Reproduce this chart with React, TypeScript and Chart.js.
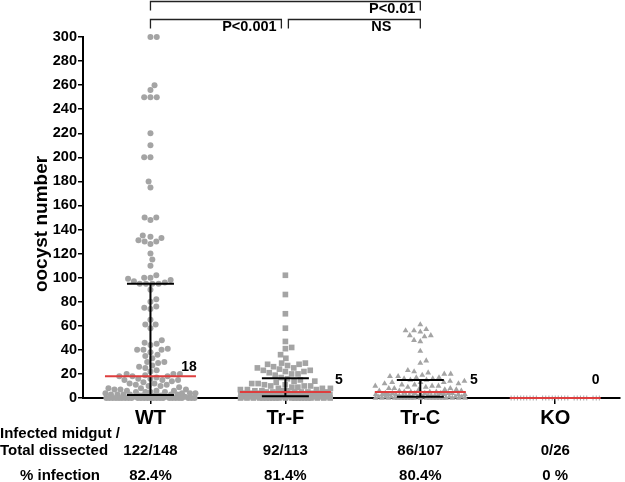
import React, { useEffect, useRef } from 'react';
import { Chart, registerables } from 'chart.js';

Chart.register(...registerables);

// ---------- data ----------
const groups = ['WT', 'Tr-F', 'Tr-C', 'KO'];

const wtValues = [
  300, 300, 260, 256, 250, 250, 250, 220, 210, 200, 200, 180, 175, 150, 150, 148, 135, 134, 133, 131, 130, 130,
  128, 120, 115, 110, 102, 100, 100, 99, 98, 97, 96, 95, 95, 95, 95,
  90, 82, 80, 76, 75, 74, 65, 61, 61, 58, 48, 46, 45, 44, 41, 40, 40, 40, 38, 36, 35, 33, 30, 30, 29, 27, 26,
  25, 23, 22, 20, 20, 20, 19, 18, 18, 18,
  17, 16, 16, 15, 15, 15, 14, 13, 12, 12, 11, 11, 10, 10, 9, 8, 8, 7, 7, 7, 6, 6, 6, 5, 5, 5, 5, 4, 4, 4, 4,
  3, 3, 3, 3, 3, 3,
  2, 2, 2, 2, 2, 1, 1, 1, 1, 1, 1,
  0, 0, 0, 0, 0, 0, 0, 0, 0, 0, 0, 0, 0, 0, 0, 0, 0, 0, 0, 0, 0, 0, 0, 0, 0, 0,
];

const trfValues = [
  102, 86, 70, 58, 47, 42, 41, 36, 33, 29, 29, 28, 28, 27, 26, 25, 25, 24, 23, 23, 22, 22, 21, 20, 20, 19, 17, 16,
  15, 14, 14, 13, 12, 12, 11, 11, 10, 10, 10, 9, 9, 8, 8, 8, 7, 7, 7, 6, 6, 6, 6, 5, 5, 5, 5, 5, 5,
  4, 4, 4, 4, 4, 4, 4, 3, 3, 3, 3, 3, 3, 3, 3, 2, 2, 2, 2, 2, 2, 2, 2, 2, 2, 1, 1, 1, 1, 1, 1, 1, 1, 1, 1,
  0, 0, 0, 0, 0, 0, 0, 0, 0, 0, 0, 0, 0, 0, 0, 0, 0, 0, 0, 0, 0,
];

const trcValues = [
  61, 57, 56, 56, 55, 52, 52, 51, 48, 47, 39, 31, 29, 23, 22, 21, 20, 20, 19, 18, 18, 17, 17, 16, 16, 15, 15,
  14, 14, 13, 13, 13, 12, 12, 11, 11, 10, 10, 10, 9, 9, 8, 8, 8, 7, 7, 7, 6, 6, 6, 5, 5, 5, 5,
  4, 4, 4, 4, 4, 4, 4, 3, 3, 3, 3, 3, 3, 3, 3, 2, 2, 2, 2, 2, 2, 2, 2, 1, 1, 1, 1, 1, 1, 1, 1, 1,
  0, 0, 0, 0, 0, 0, 0, 0, 0, 0, 0, 0, 0, 0, 0, 0, 0, 0, 0, 0, 0,
];

const koValues = [
  0, 0, 0, 0, 0, 0, 0, 0, 0, 0, 0, 0, 0, 0, 0, 0, 0, 0, 0, 0, 0, 0, 0, 0, 0, 0,
];

const medians = [18, 5, 5, 0];
const q1Values = [2.5, 1.5, 1, 0];
const q3Values = [95, 16.5, 15, 0];
const medianLabels = ['18', '5', '5', '0'];

const infectedCounts = ['122/148', '92/113', '86/107', '0/26'];
const infectionPct = ['82.4%', '81.4%', '80.4%', '0 %'];

const compFrom = [0, 0, 1];
const compTo = [2, 1, 2];
const compLabels = ['P<0.01', 'P<0.001', 'NS'];
const compRow = [0, 1, 1];

const yTicksMax = 300;
const yTickStep = 20;

// ---------- style ----------
const FONT = '"Liberation Sans", Arial, Helvetica, sans-serif';
const DOT = '#a4a4a4';
const RED = 'rgb(222,62,62)';
const pointStyles = ['circle', 'rect', 'triangle', 'line'];
const pointRadii = [3, 4, 3.4, 2.5];
const swarmD = [6.3, 6.4, 6.4, 6.3];
const CAP = 45;
const labelDx = [-7, 8, 8, -5];
const labelDy = [-9, -12, -12, -18];
const compLabelFrac = [0.896, 0.733, 0.711];
const rowY = [1.5, 19.5];

function swarm(pys: number[], d: number, cap: number): number[] {
  const idx = pys.map((_, i) => i).sort((a, b) => pys[b] - pys[a]);
  const placed: { y: number; o: number }[] = [];
  const out: number[] = new Array(pys.length).fill(0);
  let flip = 1;
  for (const i of idx) {
    const y = pys[i];
    const near = placed.filter((p) => Math.abs(p.y - y) < d);
    const intervals = near.map((p) => {
      const r = Math.sqrt(d * d - (p.y - y) * (p.y - y));
      return [p.o - r, p.o + r];
    });
    const cands = [0];
    intervals.forEach(([a, b]) => cands.push(a, b));
    cands.sort((a, b) => {
      const da = Math.abs(a) - Math.abs(b);
      if (Math.abs(da) > 1e-6) return da;
      return flip * (a - b);
    });
    let best: number | null = null;
    for (const c of cands) {
      if (Math.abs(c) > cap + 1e-6) continue;
      if (intervals.every(([a, b]) => c <= a + 1e-6 || c >= b - 1e-6)) {
        best = c;
        break;
      }
    }
    if (best === null) {
      let bs = -1;
      best = 0;
      for (let c = -cap; c <= cap + 1e-9; c += 0.5) {
        let m = Infinity;
        near.forEach((p) => {
          const dd = Math.hypot(p.o - c, p.y - y);
          if (dd < m) m = dd;
        });
        if (m > bs + 1e-6 || (Math.abs(m - bs) <= 1e-6 && Math.abs(c) < Math.abs(best))) {
          bs = m;
          best = c;
        }
      }
    }
    flip = -flip;
    placed.push({ y, o: best });
    out[i] = best;
  }
  return out;
}

const overlayPlugin = {
  id: 'overlay',
  afterDatasetsDraw(chart: any) {
    const ctx = chart.ctx;
    const xs = chart.scales.x;
    const ys = chart.scales.y;
    ctx.save();
    groups.forEach((_, g) => {
      const cx = xs.getPixelForValue(g);
      // IQR
      if (q3Values[g] > q1Values[g]) {
        const yt = ys.getPixelForValue(q3Values[g]);
        const yb = ys.getPixelForValue(q1Values[g]);
        ctx.strokeStyle = '#000';
        ctx.lineWidth = 2;
        ctx.beginPath();
        ctx.moveTo(cx, yt);
        ctx.lineTo(cx, yb);
        ctx.moveTo(cx - 23.5, yt);
        ctx.lineTo(cx + 23.5, yt);
        ctx.moveTo(cx - 23.5, yb);
        ctx.lineTo(cx + 23.5, yb);
        ctx.stroke();
      }
      // median
      const ym = ys.getPixelForValue(medians[g]);
      ctx.strokeStyle = RED;
      ctx.lineWidth = 2;
      ctx.beginPath();
      ctx.moveTo(cx - 45.5, ym);
      ctx.lineTo(cx + 45.5, ym);
      ctx.stroke();
      ctx.fillStyle = '#000';
      ctx.font = `bold 14px ${FONT}`;
      ctx.textAlign = 'center';
      ctx.textBaseline = 'middle';
      const tw = ctx.measureText(medianLabels[g]).width;
      ctx.fillText(medianLabels[g], cx + 45.5 + labelDx[g], ym + labelDy[g]);
      void tw;
    });
    ctx.restore();
  },
  afterDraw(chart: any) {
    const ctx = chart.ctx;
    const xs = chart.scales.x;
    ctx.save();
    // comparison brackets
    ctx.strokeStyle = '#222';
    ctx.lineWidth = 1.3;
    compFrom.forEach((f, k) => {
      const t = compTo[k];
      const r = compRow[k];
      const sharedLeft = compFrom.some((_, j) => j !== k && compRow[j] === r && compTo[j] === f);
      const sharedRight = compFrom.some((_, j) => j !== k && compRow[j] === r && compFrom[j] === t);
      const x1 = xs.getPixelForValue(f) + (sharedLeft ? 3 : 0);
      const x2 = xs.getPixelForValue(t) - (sharedRight ? 4 : 0);
      const y = rowY[r];
      ctx.beginPath();
      ctx.moveTo(x1, y + 9);
      ctx.lineTo(x1, y);
      ctx.lineTo(x2, y);
      ctx.lineTo(x2, y + 9);
      ctx.stroke();
      const lx = xs.getPixelForValue(f) + (xs.getPixelForValue(t) - xs.getPixelForValue(f)) * compLabelFrac[k];
      ctx.fillStyle = '#000';
      ctx.font = `bold 14.5px ${FONT}`;
      ctx.textAlign = 'center';
      ctx.textBaseline = 'middle';
      ctx.fillText(compLabels[k], lx, y + 7.5);
    });
    // y title
    ctx.save();
    ctx.translate(47, 224);
    ctx.rotate(-Math.PI / 2);
    ctx.font = `bold 19px ${FONT}`;
    ctx.textAlign = 'center';
    ctx.textBaseline = 'alphabetic';
    ctx.fillStyle = '#000';
    ctx.fillText('oocyst number', 0, 0);
    ctx.restore();
    // table below
    ctx.fillStyle = '#000';
    ctx.font = `bold 15px ${FONT}`;
    ctx.textBaseline = 'middle';
    ctx.textAlign = 'left';
    ctx.fillText('Infected midgut /', 0, 434);
    ctx.fillText('Total dissected', 0, 451);
    ctx.textAlign = 'center';
    ctx.fillText('% infection', 60, 476);
    groups.forEach((_, g) => {
      const cx = xs.getPixelForValue(g);
      ctx.fillText(infectedCounts[g], cx, 451);
      ctx.fillText(infectionPct[g], cx, 476);
    });
    ctx.restore();
  },
};

const allValues = [wtValues, trfValues, trcValues, koValues];

export default function App() {
  const ref = useRef<HTMLCanvasElement>(null);
  useEffect(() => {
    if (!ref.current) return;
    const chart = new Chart(ref.current, {
      type: 'scatter',
      data: {
        datasets: allValues.map((vals, g) => ({
          label: groups[g],
          data: vals.map((v) => ({ x: g, y: v })),
          pointStyle: pointStyles[g] as any,
          pointRadius: pointRadii[g],
          pointRotation: g === 3 ? 90 : 0,
          pointBackgroundColor: DOT,
          pointBorderColor: DOT,
          pointBorderWidth: g === 3 ? 1 : 0,
          clip: false as any,
        })),
      },
      options: {
        responsive: false,
        animation: false,
        events: [],
        layout: { padding: { top: 37, right: 5, left: 0, bottom: 0 } },
        plugins: { legend: { display: false }, tooltip: { enabled: false } },
        scales: {
          x: {
            type: 'linear',
            min: -0.5,
            max: 3.48,
            afterBuildTicks: (s: any) => {
              s.ticks = groups.map((_, i) => ({ value: i }));
            },
            afterFit: (s: any) => {
              s.height = 84;
            },
            grid: { drawOnChartArea: false, drawTicks: true, tickLength: 6, color: '#000', lineWidth: 1.5 },
            border: { display: true, color: '#000', width: 2 },
            ticks: {
              callback: (v: any) => groups[Math.round(Number(v))],
              font: { family: FONT, size: 20, weight: 'bold' },
              color: '#000',
              padding: 2,
              maxRotation: 0,
              autoSkip: false,
            },
          },
          y: {
            min: 0,
            max: yTicksMax,
            afterFit: (s: any) => {
              s.width = 83;
            },
            grid: { drawOnChartArea: false, drawTicks: true, tickLength: 5, color: '#000', lineWidth: 1.5 },
            border: { display: true, color: '#000', width: 2 },
            ticks: {
              stepSize: yTickStep,
              font: { family: FONT, size: 14.5, weight: 'bold' },
              color: '#000',
              padding: 1,
            },
          },
        },
      },
      plugins: [overlayPlugin],
    });
    const xs: any = chart.scales.x;
    const ys: any = chart.scales.y;
    const pxPerUnit = xs.getPixelForValue(1) - xs.getPixelForValue(0);
    allValues.forEach((vals, g) => {
      const pys = vals.map((v) => ys.getPixelForValue(v));
      const offs = swarm(pys, swarmD[g], CAP);
      (chart.data.datasets[g] as any).data = vals.map((v, i) => ({ x: g + offs[i] / pxPerUnit, y: v }));
    });
    chart.update();
    return () => chart.destroy();
  }, []);
  return (
    <div style={{ position: 'absolute', left: 0, top: 0, width: 625, height: 482 }}>
      <canvas ref={ref} width={625} height={482} />
    </div>
  );
}
